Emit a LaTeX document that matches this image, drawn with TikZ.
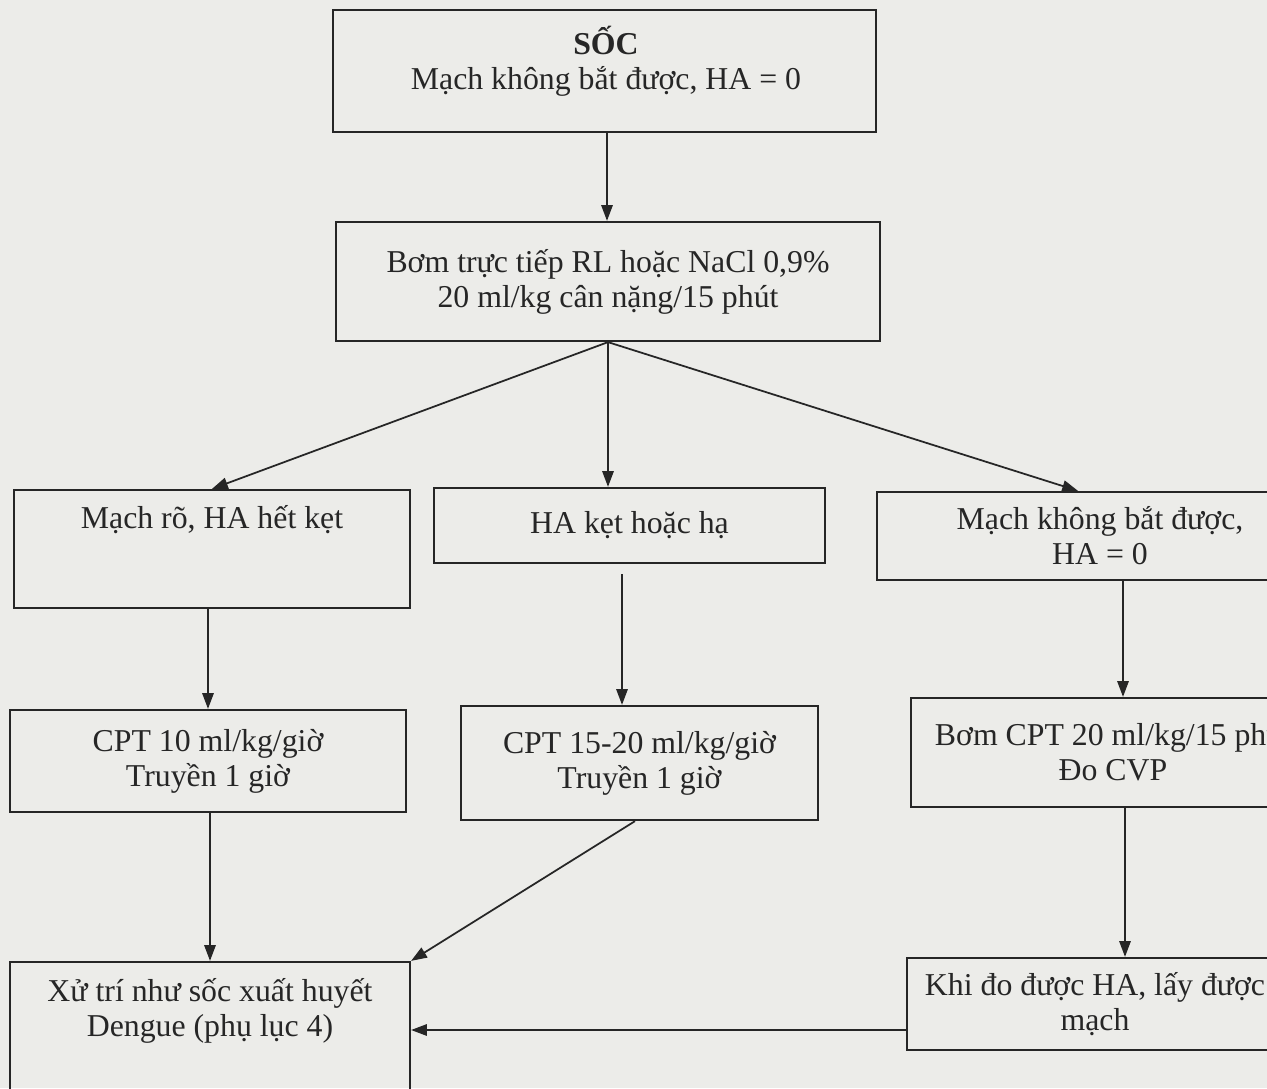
\documentclass[tikz,border=0pt]{standalone}
\usepackage{fontspec}
\setmainfont{Liberation Serif}
\usetikzlibrary{arrows.meta}
\definecolor{carta}{RGB}{236,236,233}
\definecolor{inchiostro}{RGB}{38,38,38}
\tikzset{
    box/.style={draw=inchiostro, line width=1.3pt, inner sep=2pt, align=center, text=inchiostro},
    testo/.style={inner sep=0pt, align=center, text=inchiostro},
    freccia/.style={draw=inchiostro, line width=1pt, -{Triangle[length=9pt,width=6.5pt]}},
}
\begin{document}
\begin{tikzpicture}[x=0.02cm, y=-0.02cm, font=\fontsize{18.1}{19.9}\selectfont]
    % Foglio
    \useasboundingbox (0,0) rectangle (1267,1088);
    \fill[carta] (0,0) rectangle (1267,1088);
    \clip (0,0) rectangle (1267,1088);

    % Riquadri
    \node[box, minimum width=10.86cm, minimum height=2.44cm] (soc) at (604.5,71) {};
    \node[testo] (socT) at (606,61) {\textbf{SỐC}\\Mạch không bắt được, HA = 0};
    \node[box, minimum width=10.88cm, minimum height=2.38cm] (bom) at (608,281.5)
        {Bơm trực tiếp RL hoặc NaCl 0,9\%\\20 ml/kg cân nặng/15 phút};

    \node[box, minimum width=7.92cm, minimum height=2.36cm] (machro) at (212,549) {};
    \node[testo] (machroT) at (212,520) {Mạch rõ, HA hết kẹt};
    \node[box, minimum width=7.82cm, minimum height=1.5cm] (hakep) at (629.5,525.5)
        {HA kẹt hoặc hạ};
    \node[box, minimum width=8.92cm, minimum height=1.76cm] (khongbat) at (1100,536)
        {Mạch không bắt được,\\HA = 0};

    \node[box, minimum width=7.92cm, minimum height=2.04cm] (cpt10) at (208,761)
        {CPT 10 ml/kg/giờ\\Truyền 1 giờ};
    \node[box, minimum width=7.14cm, minimum height=2.28cm] (cpt15) at (639.5,763)
        {CPT 15-20 ml/kg/giờ\\Truyền 1 giờ};
    \node[box, minimum width=8.08cm, minimum height=2.18cm] (bomcpt) at (1113,752.5)
        {Bơm CPT 20 ml/kg/15 phút\\Đo CVP};

    \node[box, minimum width=8cm, minimum height=3.16cm] (xutri) at (210,1041) {};
    \node[testo] (xutriT) at (210,1011) {Xử trí như sốc xuất huyết\\Dengue (phụ lục 4)};
    \node[box, minimum width=7.52cm, minimum height=1.84cm] (khido) at (1095,1004)
        {Khi đo được HA, lấy được\\mạch};

    % Frecce
    \draw[freccia] ([xshift=0.05cm]soc.south) -- ([xshift=0.05cm]soc.south |- bom.north);
    \draw[freccia] (bom.south) -- (machro.north);
    \draw[freccia] (bom.south) -- (bom.south |- hakep.north);
    \draw[freccia] (bom.south) -- ([xshift=-0.44cm]khongbat.north);

    \draw[freccia] (machro.south -| cpt10) -- (cpt10.north);
    \draw[freccia] ([xshift=-0.15cm,yshift=-0.2cm]hakep.south) -- ([xshift=-0.15cm]hakep.south |- cpt15.north);
    \draw[freccia] ([xshift=0.46cm]khongbat.south) -- ([xshift=0.46cm]khongbat.south |- bomcpt.north);

    \draw[freccia] ([xshift=0.04cm]cpt10.south) -- ([xshift=0.04cm]cpt10.south |- xutri.north);
    \draw[freccia] ([xshift=-0.09cm]cpt15.south) -- (xutri.north east);
    \draw[freccia] ([xshift=0.24cm]bomcpt.south) -- ([xshift=0.24cm]bomcpt.south |- khido.north);
    \draw[freccia] ([yshift=-0.52cm]khido.west) -- ([yshift=-0.52cm]khido.west -| xutri.east);
\end{tikzpicture}
\end{document}
